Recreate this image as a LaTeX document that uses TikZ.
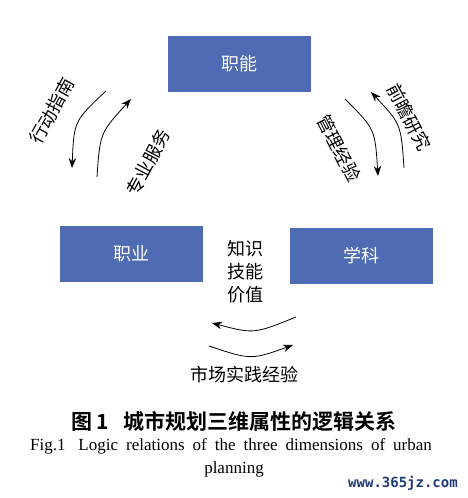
\documentclass[tikz,border=0pt]{standalone}
\usepackage{fontspec}
\setmainfont{Liberation Serif}
\newfontfamily\cjk{Noto Sans CJK SC}
\newfontfamily\cjkb{Noto Sans CJK SC Bold}
\newfontfamily\wmfont{DejaVu Sans Mono Bold}
\usetikzlibrary{arrows.meta}
\definecolor{boxblue}{RGB}{79,107,179}
\definecolor{wmblue}{RGB}{30,58,120}
\tikzset{
  dimbox/.style={fill=boxblue, draw=none, minimum width=143pt, minimum height=56pt, inner sep=0pt, text=white, font=\cjk\fontsize{18}{20}\selectfont},
  lbl/.style={inner sep=0pt, font=\cjk\fontsize{18}{20}\selectfont},
  flow/.style={line width=0.8pt, -{Stealth[length=10pt,width=7.5pt]}}
}
\begin{document}
\begin{tikzpicture}[x=1pt,y=-1pt]
\useasboundingbox (0,0) rectangle (468,498);
% boxes
\node[dimbox] (zn) at (239.5,64) {职能};
\node[dimbox] (zy) at (131.5,254) {职业};
\node[dimbox] (xk) at (361.5,256) {学科};
% center text
\node[lbl, align=center, font=\cjk\fontsize{18}{23}\selectfont] (zs) at (245,272) {知识\\技能\\价值};
% left arrows
\coordinate (l1s) at (106,91); \coordinate (l1e) at (72,168);
\coordinate (l2s) at (97,177); \coordinate (l2e) at (131,99);
\draw[flow] (l1s) .. controls (74,121) .. (l1e);
\draw[flow] (l2s) .. controls (100,133) .. (l2e);
\node[lbl, rotate=61] (xd) at (52,111) {行动指南};
\node[lbl, rotate=62] (zf) at (148,162) {专业服务};
% right arrows
\coordinate (r1s) at (345,99); \coordinate (r1e) at (378,176);
\coordinate (r2s) at (404,168); \coordinate (r2e) at (371,92);
\draw[flow] (r1s) .. controls (375,129) .. (r1e);
\draw[flow] (r2s) .. controls (401,124) .. (r2e);
\node[lbl, rotate=-62] (qz) at (409,117) {前瞻研究};
\node[lbl, rotate=-63] (gl) at (339,148) {管理经验};
% bottom arrows
\coordinate (b1s) at (296,317); \coordinate (b1e) at (212,323);
\coordinate (b2s) at (209,346); \coordinate (b2e) at (293,345);
\draw[flow] (b1s) .. controls (254,334) .. (b1e);
\draw[flow] (b2s) .. controls (251,360) .. (b2e);
\node[lbl] (sc) at (244,375) {市场实践经验};
% caption
\node[inner sep=0pt, font=\cjkb\fontsize{21}{22}\selectfont] (cap) at (234,421) {图\,1\hspace{15pt}城市规划三维属性的逻辑关系};
\node[inner sep=0pt, font=\fontsize{17}{18}\selectfont] (fig) at (231,446) {\spaceskip=8pt plus 1pt Fig.1\hspace{13pt}Logic relations of the three dimensions of urban};
\node[inner sep=0pt, font=\fontsize{17}{18}\selectfont] (pl) at (234,469) {planning};
\node[inner sep=0pt, text=wmblue, font=\wmfont\fontsize{14}{16}\selectfont] (wm) at (403,483) {www.365jz.com};
\end{tikzpicture}
\end{document}
